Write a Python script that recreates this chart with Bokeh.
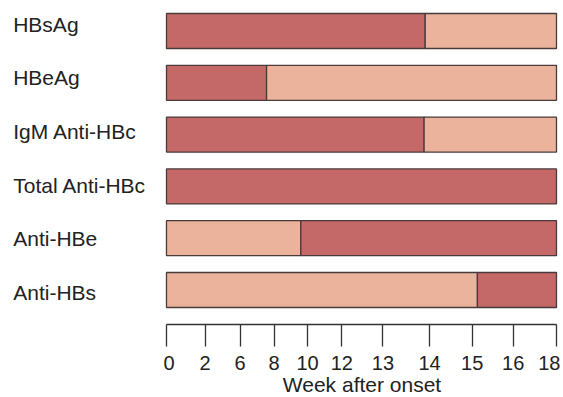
from bokeh.plotting import figure
from bokeh.models import Range1d, FixedTicker, ColumnDataSource
from bokeh.layouts import row
from bokeh.core.properties import value
from bokeh.embed import file_html
from bokeh.resources import INLINE

markers = ["HBsAg", "HBeAg", "IgM Anti-HBc", "Total Anti-HBc", "Anti-HBe", "Anti-HBs"]
# axis position where the bar changes colour (axis units, 0..18 span)
switch_at = [11.94, 4.62, 11.89, 18.0, 6.20, 14.35]
first_phase = ["dark", "dark", "dark", "dark", "light", "light"]
axis_start = 0.0
axis_end = 18.0
tick_labels = ["0", "2", "6", "8", "10", "12", "13", "14", "15", "16", "18"]
tick_pos = [0, 1.78, 3.40, 4.97, 6.51, 8.09, 9.99, 12.14, 14.11, 16.00, 18]
x_title = "Week after onset"

DARK = "#c56868"
LIGHT = "#ebb39b"
EDGE = "#4a3b3b"
FONT = "Liberation Sans"

ys, lefts, rights, colors = [], [], [], []
for i, (s, ph) in enumerate(zip(switch_at, first_phase)):
    c1 = DARK if ph == "dark" else LIGHT
    c2 = LIGHT if ph == "dark" else DARK
    ys.append(i); lefts.append(axis_start); rights.append(s); colors.append(c1)
    if s < axis_end:
        ys.append(i); lefts.append(s); rights.append(axis_end); colors.append(c2)

src = ColumnDataSource(dict(y=ys, left=lefts, right=rights, color=colors))
yr = Range1d(5.666, -0.589)

# left panel: marker names
pl = figure(output_backend="svg", toolbar_location=None,
            frame_width=163, frame_height=324,
            x_range=Range1d(0, 163), y_range=yr,
            x_axis_location=None, y_axis_location=None,
            min_border_left=0, min_border_right=0, min_border_top=0, min_border_bottom=0)
pl.outline_line_color = None
pl.xgrid.visible = False
pl.ygrid.visible = False
label_y = [-0.13 + 1.036 * i for i in range(len(markers))]
pl.text(x=[12.7] * len(markers), y=label_y, text=markers,
        text_font=value(FONT), text_font_size="21px",
        text_color="#222222", text_align="left", text_baseline="alphabetic")

# right panel: bars and axis
p = figure(output_backend="svg", toolbar_location=None,
           frame_width=397, frame_height=324,
           x_range=Range1d(-0.138, 18.185), y_range=yr,
           y_axis_location=None, min_border_left=0, min_border_right=0,
           min_border_top=0, min_border_bottom=0)
p.outline_line_color = None
p.xgrid.visible = False
p.ygrid.visible = False

p.hbar(y="y", left="left", right="right", height=0.676, fill_color="color",
       line_color=EDGE, line_width=1.3, source=src)

ax = p.xaxis[0]
ax.bounds = (axis_start, axis_end)
ax.ticker = FixedTicker(ticks=tick_pos)
ax.major_label_overrides = {t: l for t, l in zip(tick_pos, tick_labels)}
ax.minor_tick_line_color = None
ax.major_tick_in = 0
ax.major_tick_out = 22
ax.major_tick_line_color = "#333333"
ax.major_tick_line_width = 1.3
ax.axis_line_color = "#333333"
ax.axis_line_width = 1.5
ax.major_label_text_font = FONT
ax.major_label_text_font_size = "20px"
ax.major_label_text_color = "#222222"
ax.major_label_standoff = 9
ax.axis_label = x_title
ax.axis_label_text_font = FONT
ax.axis_label_text_font_size = "21px"
ax.axis_label_text_font_style = "normal"
ax.axis_label_text_color = "#222222"
ax.axis_label_standoff = 0

layout = row(pl, p)
open("out.html", "w").write(file_html(layout, INLINE))
